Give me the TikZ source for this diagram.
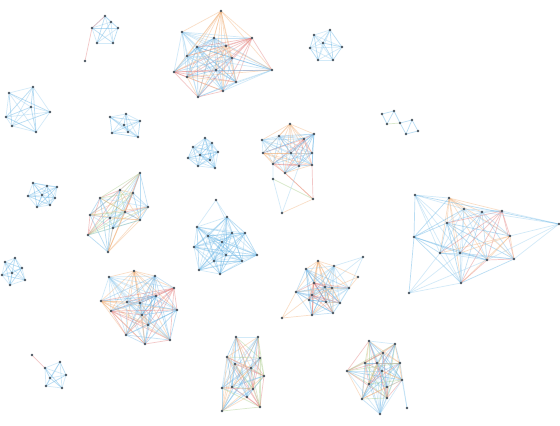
\documentclass[tikz,border=0pt]{standalone}
\pgfdeclarelayer{background}
\pgfsetlayers{background,main}
\definecolor{c0}{HTML}{5AAEE3}
\definecolor{c1}{HTML}{96CDEF}
\definecolor{c2}{HTML}{E27A7A}
\definecolor{c3}{HTML}{F2B27A}
\definecolor{c4}{HTML}{78B8E6}
\definecolor{c5}{HTML}{A8CC88}
\definecolor{dotc}{HTML}{4A5560}
\tikzset{
  dot/.style={circle,fill=dotc,inner sep=0pt,minimum size=1.4pt},
  edge/.style={line width=0.35pt,draw opacity=0.42}
}
\newcommand\drawcluster[4]{%
  \foreach \x/\y [count=\i] in {#4} { \node[dot] (#1\i) at (\x,\y) {}; }
  \begin{pgfonlayer}{background}
  \foreach \p [count=\i] in {#4} {
    \foreach \q [count=\j] in {#4} {
      \ifnum\j>\i
        \pgfmathtruncatemacro\k{#2+mod(\i*3+\j*5,#3)}
        \draw[edge,draw=c\k] (#1\i.center) -- (#1\j.center);
      \fi
    }
  }
  \end{pgfonlayer}
}
\begin{document}
\begin{tikzpicture}[x=0.5pt,y=-0.5pt]
\begin{pgfonlayer}{background}
\fill[white] (0,0) rectangle (560,425);
\end{pgfonlayer}
\useasboundingbox (0,0) rectangle (560,425);
% top cluster
\drawcluster{A}{0}{5}{221/11,182/32,214/38,252/38,197/47,226/46,187/56,232/58,174/72,216/70,187/77,272/70,236/82,223/91,198/97}
% top-left small
\drawcluster{B}{0}{2}{105/16,92/28,111/22,118/28,97/43,113/43}
\node[dot] (B7) at (85,61) {};
\begin{pgfonlayer}{background}\draw[edge,draw=c2] (B1.center) -- (B2.center) -- (B7.center);\end{pgfonlayer}
% top right
\drawcluster{C}{0}{2}{330/30,314/35,323/43,310/48,342/47,318/60,333/60}
% tiny right
\node[dot] (D1) at (394,111) {};
\node[dot] (D2) at (382,114) {};
\node[dot] (D3) at (387,124) {};
\node[dot] (D4) at (400,123) {};
\node[dot] (D5) at (412,120) {};
\node[dot] (D6) at (406,134) {};
\node[dot] (D7) at (418,131) {};
\begin{pgfonlayer}{background}
\draw[edge,draw=c0] (D1.center) -- (D2.center) -- (D3.center) -- (D1.center);
\draw[edge,draw=c5] (D3.center) -- (D4.center);
\draw[edge,draw=c0] (D1.center) -- (D4.center);
\draw[edge,draw=c0] (D4.center) -- (D5.center) -- (D6.center) -- (D4.center);
\draw[edge,draw=c0] (D6.center) -- (D7.center) -- (D5.center);
\end{pgfonlayer}
% left pentagon
\drawcluster{E}{0}{2}{33/87,9/93,31/107,50/112,6/117,12/126,36/132}
% small left middle
\drawcluster{F}{0}{2}{110/117,126/114,140/121,124/125,112/133,128/132,138/137}
% left middle cluster
\drawcluster{G}{0}{6}{140/173,120/190,133/193,100/198,148/207,90/215,125/212,110/218,140/220,88/235,113/228,108/252}
% central right upper
\drawcluster{H}{0}{5}{290/124,262/140,279/136,304/139,314/134,263/153,291/153,312/153,273/164,299/166,312/165,285/173}
\node[dot] (H13) at (273,179) {};
\node[dot] (H14) at (313,199) {};
\node[dot] (H15) at (282,213) {};
\begin{pgfonlayer}{background}
\draw[edge,draw=c1] (H9.center) -- (H13.center) -- (H15.center);
\draw[edge,draw=c3] (H12.center) -- (H14.center) -- (H15.center);
\draw[edge,draw=c2] (H12.center) -- (H14.center) -- (H11.center);
\draw[edge,draw=c5] (H13.center) -- (H14.center);
\draw[edge,draw=c1] (H10.center) -- (H15.center);
\end{pgfonlayer}
% small centre
\drawcluster{I}{0}{2}{205/138,193/147,212/143,218/152,200/155,188/158,210/160,198/166,215/168}
% big right
\drawcluster{J}{0}{5}{449/198,464/209,482/212,502/211,447/223,510/236,440/253,460/253,487/260,514/259,461/283}
\node[dot] (J12) at (415,195) {};
\node[dot] (J13) at (414,237) {};
\node[dot] (J14) at (559,224) {};
\node[dot] (J15) at (409,293) {};
\begin{pgfonlayer}{background}
\foreach \a in {1,2,5,7,8,11} {\draw[edge,draw=c1] (J12.center) -- (J\a.center);}
\foreach \a in {1,2,5,7,8,9,11} {\draw[edge,draw=c0] (J13.center) -- (J\a.center);}
\foreach \a in {4,6,9,10,3} {\draw[edge,draw=c1] (J14.center) -- (J\a.center);}
\foreach \a in {7,8,11,9} {\draw[edge,draw=c1] (J15.center) -- (J\a.center);}
\draw[edge,draw=c0] (J12.center) -- (J13.center) -- (J15.center);
\draw[edge,draw=c0] (J12.center) -- (J14.center);
\end{pgfonlayer}
% small left
\drawcluster{K}{0}{2}{33/183,47/186,57/187,28/196,42/195,55/198,37/207,50/205}
% far left
\drawcluster{L}{0}{2}{5/262,15/258,22/268,2/275,12/273,25/280,10/285}
% lower left big
\drawcluster{M}{0}{5}{134/271,109/277,155/276,174/288,156/296,101/301,127/302,140/303,111/311,177/310,142/315,148/325,126/335,145/344,170/340}
% centre lower
\drawcluster{N}{0}{2}{227/217,197/227,208/236,232/233,245/233,222/242,194/247,214/261,226/255,242/261,257/255,199/270,220/274}
\node[dot] (N14) at (216,200) {};
\begin{pgfonlayer}{background}
\draw[edge,draw=c1] (N14.center) -- (N2.center);
\draw[edge,draw=c1] (N14.center) -- (N1.center);
\draw[edge,draw=c1] (N14.center) -- (N4.center);
\end{pgfonlayer}
% centre right lower
\drawcluster{O}{0}{5}{318/261,334/266,306/269,314/283,325/287,332/288,349/288,296/292,312/295,309/300,326/302,340/303,333/313,312/315}
\node[dot] (O15) at (363,257) {};
\node[dot] (O16) at (358,277) {};
\node[dot] (O17) at (282,318) {};
\begin{pgfonlayer}{background}
\foreach \a in {2,7,5} {\draw[edge,draw=c1] (O15.center) -- (O\a.center);}
\foreach \a in {2,7,6} {\draw[edge,draw=c3] (O16.center) -- (O\a.center);}
\foreach \a in {8,9,14} {\draw[edge,draw=c3] (O17.center) -- (O\a.center);}
\end{pgfonlayer}
% bottom centre
\drawcluster{P}{0}{6}{236/337,258/337,227/357,260/358,235/364,251/368,264/376,222/388,232/387,253/389,247/397,222/411,260/407}
% bottom right
\drawcluster{Q}{0}{6}{369/341,395/344,383/353,365/363,377/363,400/363,347/371,382/371,402/380,369/384,387/387,362/399,387/398,380/414}
\node[dot] (Q15) at (407,408) {};
\begin{pgfonlayer}{background}
\draw[edge,draw=c1] (Q15.center) -- (Q9.center);
\draw[edge,draw=c1] (Q15.center) -- (Q6.center);
\end{pgfonlayer}
% bottom left small
\drawcluster{S}{0}{2}{60/362,45/368,66/375,50/378,46/386,62/388}
\node[dot] (S7) at (32,355) {};
\begin{pgfonlayer}{background}
\draw[edge,draw=c2] (S7.center) -- (S2.center);
\end{pgfonlayer}
\end{tikzpicture}
\end{document}
